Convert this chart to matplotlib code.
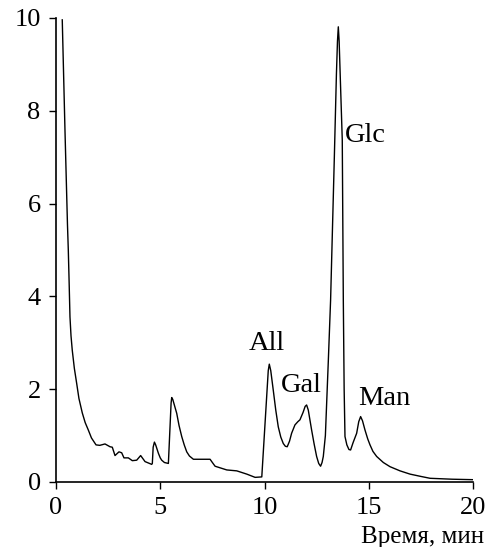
import matplotlib
matplotlib.use("Agg")
import matplotlib.pyplot as plt

plt.rcParams['font.family'] = ['Liberation Serif', 'DejaVu Serif']

# Retention time (min) and detector signal
time_min = [0.30, 0.43, 0.55, 0.59, 0.63, 0.67, 0.72, 0.78, 0.88, 0.99, 1.10, 1.26, 1.40, 1.55,
            1.70, 1.92, 2.10, 2.35, 2.59, 2.70, 2.83, 3.02, 3.15, 3.26, 3.47, 3.66, 3.87, 4.06,
            4.27, 4.59, 4.62, 4.66, 4.72, 4.78, 4.91, 5.00, 5.07, 5.20, 5.39, 5.52, 5.55, 5.60,
            5.79, 5.90, 6.03, 6.15, 6.27, 6.40, 6.59, 7.39, 7.50, 7.63, 8.19, 8.67, 9.15, 9.55,
            9.87, 10.18, 10.23, 10.30, 10.42, 10.54, 10.66, 10.78, 10.90, 11.00, 11.09, 11.20,
            11.30, 11.46, 11.60, 11.70, 11.85, 11.95, 12.02, 12.10, 12.26, 12.38, 12.50, 12.60,
            12.69, 12.76, 12.82, 12.92, 13.06, 13.17, 13.35, 13.45, 13.50, 13.54, 13.58, 13.65,
            13.73, 13.78, 13.82, 13.86, 13.95, 14.05, 14.13, 14.25, 14.42, 14.52, 14.61, 14.70,
            14.82, 14.95, 15.06, 15.20, 15.38, 15.70, 16.02, 16.50, 16.98, 17.50, 17.94, 19.00,
            20.00]
signal = [9.96, 7.59, 5.55, 5.00, 4.30, 3.56, 3.15, 2.84, 2.45, 2.13, 1.80, 1.49, 1.28, 1.12,
          0.95, 0.80, 0.79, 0.82, 0.76, 0.75, 0.57, 0.65, 0.63, 0.52, 0.52, 0.46, 0.47, 0.57,
          0.44, 0.38, 0.40, 0.75, 0.86, 0.80, 0.62, 0.52, 0.47, 0.42, 0.40, 1.70, 1.82, 1.78,
          1.48, 1.22, 0.98, 0.80, 0.65, 0.56, 0.49, 0.49, 0.42, 0.34, 0.26, 0.24, 0.17, 0.10,
          0.11, 2.40, 2.54, 2.40, 1.98, 1.55, 1.19, 0.97, 0.83, 0.77, 0.76, 0.88,
          1.05, 1.23, 1.30, 1.34, 1.50, 1.63, 1.66, 1.55, 1.12, 0.82, 0.55, 0.40,
          0.34, 0.42, 0.55, 1.00, 2.60, 3.92, 7.01, 8.80, 9.50, 9.81, 9.50, 8.50,
          7.37, 3.92, 2.00, 0.98, 0.80, 0.70, 0.69, 0.85, 1.05, 1.30, 1.41, 1.32,
          1.12, 0.93, 0.80, 0.66, 0.55, 0.42, 0.33, 0.24, 0.17, 0.12, 0.08, 0.06,
          0.05]

peak_labels = ["All", "Gal", "Glc", "Man"]
peak_x = [10.1, 11.75, 13.86, 14.5]
peak_y = [2.85, 1.94, 7.33, 1.66]
peak_ha = ["center", "center", "left", "left"]

x_ticks = [0, 5, 10, 15, 20]
y_ticks = [0, 2, 4, 6, 8, 10]
x_label = "Время, мин"

fig = plt.figure(figsize=(4.9, 5.47), dpi=100)
ax = fig.add_axes([56/490, 1-482/547, (473-56)/490, (482-18)/547])

ax.plot(time_min, signal, color='black', lw=1.0)

for lab, x, y, ha in zip(peak_labels, peak_x, peak_y, peak_ha):
    ax.text(x, y, lab, ha=ha, va='baseline', fontsize=20.5)

ax.set_xlim(0, 20)
ax.set_ylim(0, 10)
ax.set_xticks(x_ticks)
ax.set_yticks(y_ticks)
for s in ['top', 'right']:
    ax.spines[s].set_visible(False)
for s in ['left', 'bottom']:
    ax.spines[s].set_linewidth(1.2)
ax.tick_params(direction='out', length=5, width=1.0, labelsize=19, pad=6)

fig.text(484/490, 1-543/547, x_label, ha='right', va='baseline', fontsize=18)

fig.savefig("out.png", dpi=100)
